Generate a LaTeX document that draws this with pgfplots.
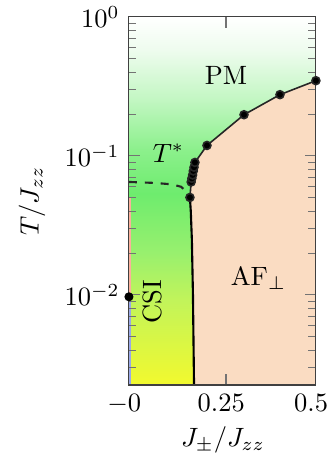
\documentclass[border=0pt]{standalone}
\usepackage{pgfplots}
\pgfplotsset{compat=1.18}

% colours of the phase regions
\definecolor{afcol}{HTML}{FADCC2}
\definecolor{ylw}{HTML}{F2F92E}
\definecolor{g1}{HTML}{C2F45A}
\definecolor{g2}{HTML}{98F06E}
\definecolor{g3}{HTML}{6EEC6E}
\definecolor{g4}{HTML}{8CF08C}
\definecolor{g5}{HTML}{C4F7C4}
\definecolor{g6}{HTML}{EEFCEE}
\definecolor{bluestrip}{HTML}{9AA8E8}

% background: white at high T, green around T*, yellow at low T
\pgfdeclareverticalshading{phasebg}{100bp}{%
  color(0bp)=(ylw); color(25bp)=(ylw); color(36.5bp)=(g1);
  color(43bp)=(g2); color(51bp)=(g3); color(57bp)=(g4);
  color(64bp)=(g5); color(70.5bp)=(g6); color(75bp)=(white);
  color(100bp)=(white)}

\begin{document}
\begin{tikzpicture}
\begin{axis}[
  scale only axis,
  width=70.6pt, height=139pt,
  ymode=log,
  xmin=-0.02, xmax=0.5,
  ymin=0.00225, ymax=1,
  xtick={-0.02,0.25,0.5},
  xticklabels={$-0$,$0.25$,$0.5$},
  x tick label style={xshift=-1.8pt},
  xlabel={$J_{\pm}/J_{zz}$},
  ylabel={$T/J_{zz}$},
  xlabel style={at={(axis description cs:0.503,-0.15)}, anchor=center},
  ylabel style={at={(axis description cs:-0.518,0.5)}, anchor=center},
  axis on top,
  axis line style={black!75},
  every tick/.style={black!55},
  clip marker paths=false,
]
% backgrounds
\addplot[draw=none, shading=phasebg] coordinates
  {(-0.02,0.00225) (0.5,0.00225) (0.5,1) (-0.02,1)} --cycle;
\addplot[draw=none, fill=afcol] coordinates
  {(0.161,0.00225) (0.158,0.010) (0.155,0.025) (0.152,0.040) (0.1496,0.0503)
   (0.153,0.065) (0.155,0.069) (0.157,0.073) (0.159,0.078) (0.161,0.083) (0.1635,0.0898)
   (0.197,0.119) (0.300,0.198) (0.400,0.276) (0.500,0.348) (0.500,0.00225)} --cycle;
% thin strips at the left edge
\addplot[draw=none, fill=bluestrip] coordinates
  {(-0.02,0.00225) (-0.0155,0.00225) (-0.0155,0.0097) (-0.02,0.0097)} --cycle;
\addplot[draw=none, fill=afcol!80!red] coordinates
  {(-0.02,0.0097) (-0.0155,0.0097) (-0.0155,0.05) (-0.02,0.05)} --cycle;

% crossover line T*
\addplot[black!85, dashed, thick, no marks] coordinates
  {(-0.02,0.065) (0.05,0.064) (0.10,0.0625) (0.125,0.060) (0.138,0.056) (0.1496,0.0503)};
% CSI / AF boundary
\addplot[black, thick, no marks] coordinates
  {(0.1496,0.0503) (0.152,0.040) (0.155,0.025) (0.158,0.010) (0.161,0.00225)};
% PM / AF transition
\addplot[black!85, semithick, mark=*, mark size=1.5pt, mark options={fill=black}] coordinates
  {(0.1496,0.0503) (0.153,0.065) (0.155,0.069) (0.157,0.073) (0.159,0.078) (0.161,0.083)
   (0.1635,0.0898) (0.197,0.119) (0.300,0.198) (0.400,0.276) (0.500,0.348)};
\addplot[only marks, mark=*, mark size=1.5pt, black] coordinates {(-0.02,0.0097)};

% phase labels
\node at (axis cs:0.25,0.38) {PM};
\node at (axis cs:0.09,0.105) {$T^{*}$};
\node[rotate=90] at (axis cs:0.045,0.0089) {CSI};
\node at (axis cs:0.34,0.0132) {$\mathrm{AF}_{\perp}$};
\end{axis}
% page frame with the same margins around the axis box
\pgfresetboundingbox
\path ([xshift=-48.7pt,yshift=-32.1pt]current axis.south west)
  rectangle ([xshift=4.9pt,yshift=6.4pt]current axis.north east);
\end{tikzpicture}
\end{document}
